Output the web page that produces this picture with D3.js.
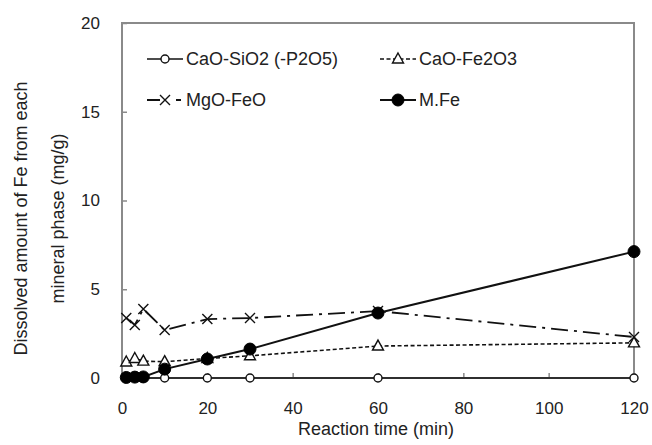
<!DOCTYPE html>
<html>
<head>
<meta charset="utf-8">
<script src="https://cdn.jsdelivr.net/npm/d3@7"></script>
<style>
  body { margin: 0; background: #fff; }
  text { font-family: "Liberation Sans", Arial, sans-serif; fill: #222; }
</style>
</head>
<body>
<div id="chart"></div>
<script>

// data
var times = [1, 3, 5, 10, 20, 30, 60, 120];
var caoSio2 = [0, 0, 0, 0, 0, 0, 0, 0];
var caoFe2o3 = [0.9, 1.1, 0.95, 0.92, 1.1, 1.25, 1.8, 1.98];
var mgoFeo = [3.38, 2.99, 3.89, 2.7, 3.32, 3.38, 3.77, 2.31];
var mFe = [0.03, 0.05, 0.06, 0.5, 1.07, 1.63, 3.66, 7.12];
var xTicks = [0, 20, 40, 60, 80, 100, 120];
var yTicks = [0, 5, 10, 15, 20];

var seriesNames = ["CaO-SiO2 (-P2O5)", "CaO-Fe2O3", "MgO-FeO", "M.Fe"];

// dimensions
var margin = {top: 23, right: 18, bottom: 67, left: 122},
    width = 652 - margin.left - margin.right,
    height = 445 - margin.top - margin.bottom;

var svg = d3.select("#chart")
  .append("svg")
    .attr("width", 652)
    .attr("height", 445)
  .append("g")
    .attr("transform", "translate(" + margin.left + "," + margin.top + ")");

var x = d3.scaleLinear().domain([0, 120]).range([0, width]);
var y = d3.scaleLinear().domain([0, 20]).range([height, 0]);

var frameColor = "#8a8a8a";

// series styling
var series = [
  {name: seriesNames[0], values: caoSio2, dash: null, legendDash: null, width: 1.6, marker: "circle-open"},
  {name: seriesNames[1], values: caoFe2o3, dash: "4,2.5", legendDash: "4,2.5", width: 1.6, marker: "triangle"},
  {name: seriesNames[2], values: mgoFeo, dash: "17,6,3,6", legendDash: "13,16,5,10", width: 1.8, marker: "cross"},
  {name: seriesNames[3], values: mFe, dash: null, legendDash: null, width: 2, marker: "circle-filled"}
];

// axes (ticks point inward)
svg.append("g")
    .attr("transform", "translate(0," + height + ")")
    .call(d3.axisBottom(x).tickValues(xTicks).tickSize(-5).tickPadding(24))
    .call(function(g) {
      g.select(".domain").remove();
      g.selectAll("line").attr("stroke", frameColor).attr("stroke-width", 1.5);
      g.selectAll("text").style("font-size", "17px").attr("fill", "#222");
    });

svg.append("g")
    .call(d3.axisLeft(y).tickValues(yTicks).tickSize(-5).tickPadding(22))
    .call(function(g) {
      g.select(".domain").remove();
      g.selectAll("line").attr("stroke", frameColor).attr("stroke-width", 1.5);
      g.selectAll("text").style("font-size", "17px").attr("fill", "#222");
    });

// plot frame
svg.append("rect")
    .attr("x", 0).attr("y", 0)
    .attr("width", width).attr("height", height)
    .attr("fill", "none")
    .attr("stroke", frameColor)
    .attr("stroke-width", 2);

function drawMarker(g, type, cx, cy) {
  if (type == "circle-open") {
    g.append("circle").attr("cx", cx).attr("cy", cy).attr("r", 4)
      .attr("fill", "#fff").attr("stroke", "#111").attr("stroke-width", 1.4);
  } else if (type == "circle-filled") {
    g.append("circle").attr("cx", cx).attr("cy", cy).attr("r", 6)
      .attr("fill", "#000").attr("stroke", "#000");
  } else if (type == "triangle") {
    g.append("path")
      .attr("d", "M" + cx + "," + (cy - 6) + "L" + (cx + 5.5) + "," + (cy + 4) + "L" + (cx - 5.5) + "," + (cy + 4) + "Z")
      .attr("fill", "#fff").attr("stroke", "#111").attr("stroke-width", 1.4);
  } else if (type == "cross") {
    g.append("path")
      .attr("d", "M" + (cx - 5) + "," + (cy - 5) + "L" + (cx + 5) + "," + (cy + 5) +
                 "M" + (cx + 5) + "," + (cy - 5) + "L" + (cx - 5) + "," + (cy + 5))
      .attr("fill", "none").attr("stroke", "#111").attr("stroke-width", 1.4);
  }
}

var line = d3.line()
    .x(function(d) { return x(d[0]); })
    .y(function(d) { return y(d[1]); });

// lines and points
series.forEach(function(s) {
  var pts = times.map(function(t, i) { return [t, s.values[i]]; });
  var g = svg.append("g");
  g.append("path")
      .datum(pts)
      .attr("d", line)
      .attr("fill", "none")
      .attr("stroke", "#111")
      .attr("stroke-width", s.width)
      .attr("stroke-dasharray", s.dash);
  pts.forEach(function(p) { drawMarker(g, s.marker, x(p[0]), y(p[1])); });
});

// legend
var legendPos = [[25, 36], [258, 36], [25, 77], [258, 77]];
series.forEach(function(s, i) {
  var lx = legendPos[i][0], ly = legendPos[i][1];
  var g = svg.append("g");
  g.append("line")
      .attr("x1", lx).attr("x2", lx + 36)
      .attr("y1", ly).attr("y2", ly)
      .attr("stroke", "#111")
      .attr("stroke-width", s.width)
      .attr("stroke-dasharray", s.legendDash);
  drawMarker(g, s.marker, lx + 18, ly);
  g.append("text")
      .attr("x", lx + 39)
      .attr("y", ly + 6)
      .style("font-size", "18px")
      .text(s.name);
});

// axis titles
svg.append("text")
    .attr("x", width / 2 - 2)
    .attr("y", height + 57)
    .attr("text-anchor", "middle")
    .style("font-size", "18px")
    .text("Reaction time (min)");

var yTitle = svg.append("text")
    .attr("transform", "translate(" + (-margin.left + 27) + "," + (height / 2 + 18) + ") rotate(-90)")
    .attr("text-anchor", "middle")
    .style("font-size", "18px");
yTitle.append("tspan").attr("x", 0).attr("dy", 0).text("Dissolved amount of Fe from each");
yTitle.append("tspan").attr("x", 0).attr("dy", 37).text("mineral phase (mg/g)");

</script>
</body>
</html>
